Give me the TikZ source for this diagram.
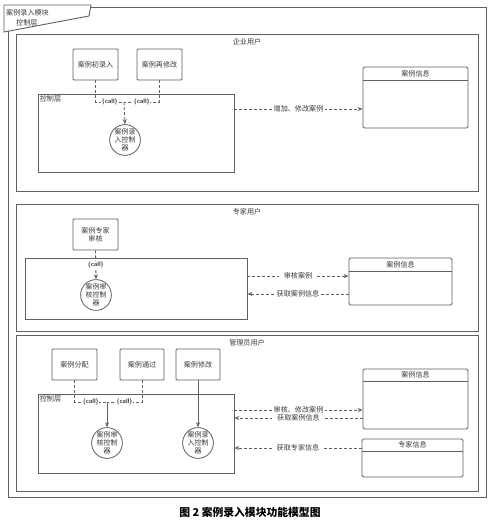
\documentclass[tikz,border=0pt]{standalone}
\usepackage{fontspec}
\setmainfont{Noto Sans CJK SC}
\usetikzlibrary{arrows.meta}
\definecolor{ln}{HTML}{606060}
\definecolor{tx}{HTML}{3A3A3A}
\begin{document}
\begin{tikzpicture}[x=1pt,y=-1pt,
  every node/.style={font=\fontsize{7.1}{8.4}\selectfont, text=tx},
  frame/.style={draw=ln, line width=0.9pt},
  panel/.style={draw=ln, line width=0.9pt, minimum width=462, inner sep=0},
  ctrl/.style={draw=ln, line width=0.8pt, inner sep=0},
  box/.style={draw=ln, line width=0.8pt, rounded corners=1pt, align=center, inner sep=0, minimum height=31},
  info/.style={draw=ln, line width=0.8pt, rounded corners=1.5pt, inner sep=0},
  ctl/.style={draw=ln, line width=0.8pt, circle, minimum size=30, inner sep=0, align=center, font=\fontsize{7}{8}\selectfont},
  dsh/.style={draw=ln, line width=0.8pt, dash pattern=on 3pt off 2pt},
  sld/.style={draw=ln, line width=0.8pt},
  tip/.style={-{Stealth[length=5pt,width=4pt]}},
  call/.style={fill=white, inner sep=1pt, font=\sffamily\bfseries\fontsize{6.5}{7}\selectfont},
  lbl/.style={fill=white, inner xsep=2pt, inner ysep=1pt},
  lblw/.style={fill=white, inner xsep=5pt, inner ysep=1pt}
]
\useasboundingbox (0,0) rectangle (496,521);
\fill[white] (0,0) rectangle (496,521);

% outer frame with tab
\draw[frame] (8,7) rectangle (486,497);
\draw[frame, fill=white] (4,5) -- (91,5) -- (89,16) -- (4,32) -- cycle;
\node[anchor=west, inner sep=0] (tab1) at (6,13) {案例录入模块};
\node[anchor=west, inner sep=0] (tab2) at (16,23) {控制层};

% ===== panel 1: enterprise user
\node[panel, minimum height=157] (p1) at (247,112.5) {};
\node[anchor=north, inner sep=0] (p1t) at ([yshift=-5]p1.north) {企业用户};
\node[ctrl, minimum width=196, minimum height=78] (c1) at (136,133) {};
\node[anchor=north west, inner sep=2pt] (c1t) at (c1.north west) {控制层};
\node[box, minimum width=45] (a1) at (95.5,64.5) {案例初录入};
\node[box, minimum width=45] (a2) at (159.5,64.5) {案例再修改};
\node[ctl] (k1) at (125,140) {案例录\\入控制\\器};
\coordinate (j1) at (124,102);
\draw[dsh] (a1.south) |- node[call, pos=0.75] {(call)} (j1);
\draw[dsh] (a2.south) |- node[call, pos=0.75] {(call)} (j1);
\draw[dsh, tip] (j1) -- (k1.north);
\node[info, minimum width=105, minimum height=61] (i1) at (415.5,97.5) {};
\draw[sld] ([yshift=-14]i1.north west) -- ([yshift=-14]i1.north east);
\node (i1t) at ([yshift=-7]i1.north) {案例信息};
\draw[dsh, tip] (c1.east |- 0,109) -- node[lbl] {增加、修改案例} (i1.west |- 0,109);

% ===== panel 2: expert user
\node[panel, minimum height=127] (p2) at (247,267.5) {};
\node[anchor=north, inner sep=0] (p2t) at ([yshift=-5]p2.north) {专家用户};
\node[ctrl, minimum width=222, minimum height=61] (c2) at (136,288.5) {};
\node[box, minimum width=45] (e1) at (95.5,234.5) {案例专家\\审核};
\node[ctl] (k2) at (96,295) {案例审\\核控制\\器};
\draw[dsh, tip] (e1.south) -- node[call, pos=0.5] {(call)} (k2.north);
\node[info, minimum width=103, minimum height=47] (i2) at (400.5,281.5) {};
\draw[sld] ([yshift=-14]i2.north west) -- ([yshift=-14]i2.north east);
\node (i2t) at ([yshift=-7]i2.north) {案例信息};
\draw[dsh, tip] (c2.east |- 0,276) -- node[lblw] {审核案例} (i2.west |- 0,276);
\draw[dsh, tip] (i2.west |- 0,294) -- node[lbl] {获取案例信息} (c2.east |- 0,294);

% ===== panel 3: admin user
\node[panel, minimum height=156] (p3) at (247,413) {};
\node[anchor=north, inner sep=0] (p3t) at ([yshift=-5]p3.north) {管理员用户};
\node[ctrl, minimum width=196, minimum height=79] (c3) at (136,433.5) {};
\node[anchor=north west, inner sep=2pt] (c3t) at (c3.north west) {控制层};
\node[box, minimum width=45] (m1) at (74.5,364.5) {案例分配};
\node[box, minimum width=44] (m2) at (142,364.5) {案例通过};
\node[box, minimum width=44] (m3) at (198,364.5) {案例修改};
\node[ctl] (k3) at (107,443) {案例审\\核控制\\器};
\node[ctl] (k4) at (198,443) {案例录\\入控制\\器};
\coordinate (j2) at (107,402);
\draw[dsh] (m1.south) |- node[call, pos=0.75] {(call)} (j2);
\draw[dsh] (m2.south) |- node[call, pos=0.75] {(call)} (j2);
\draw[sld, tip] (j2) -- (k3.north);
\draw[sld, tip] (m3.south) -- (k4.north);
\node[info, minimum width=105, minimum height=60] (i3) at (415.5,399) {};
\draw[sld] ([yshift=-13]i3.north west) -- ([yshift=-13]i3.north east);
\node (i3t) at ([yshift=-6.5]i3.north) {案例信息};
\node[info, minimum width=101, minimum height=38] (i4) at (412.5,458) {};
\draw[sld] ([yshift=-13]i4.north west) -- ([yshift=-13]i4.north east);
\node (i4t) at ([yshift=-6.5]i4.north) {专家信息};
\draw[dsh, tip] (c3.east |- 0,410) -- node[lbl] {审核、修改案例} (i3.west |- 0,410);
\draw[dsh, tip] (i3.west |- 0,418) -- node[lblw] {获取案例信息} (c3.east |- 0,418);
\draw[dsh, tip] (i4.west |- 0,448) -- node[lblw] {获取专家信息} (c3.east |- 0,448);

% caption
\node[font=\bfseries\fontsize{10.8}{12}\selectfont, text=black] (cap) at (250,512) {图 2 案例录入模块功能模型图};
\end{tikzpicture}
\end{document}
